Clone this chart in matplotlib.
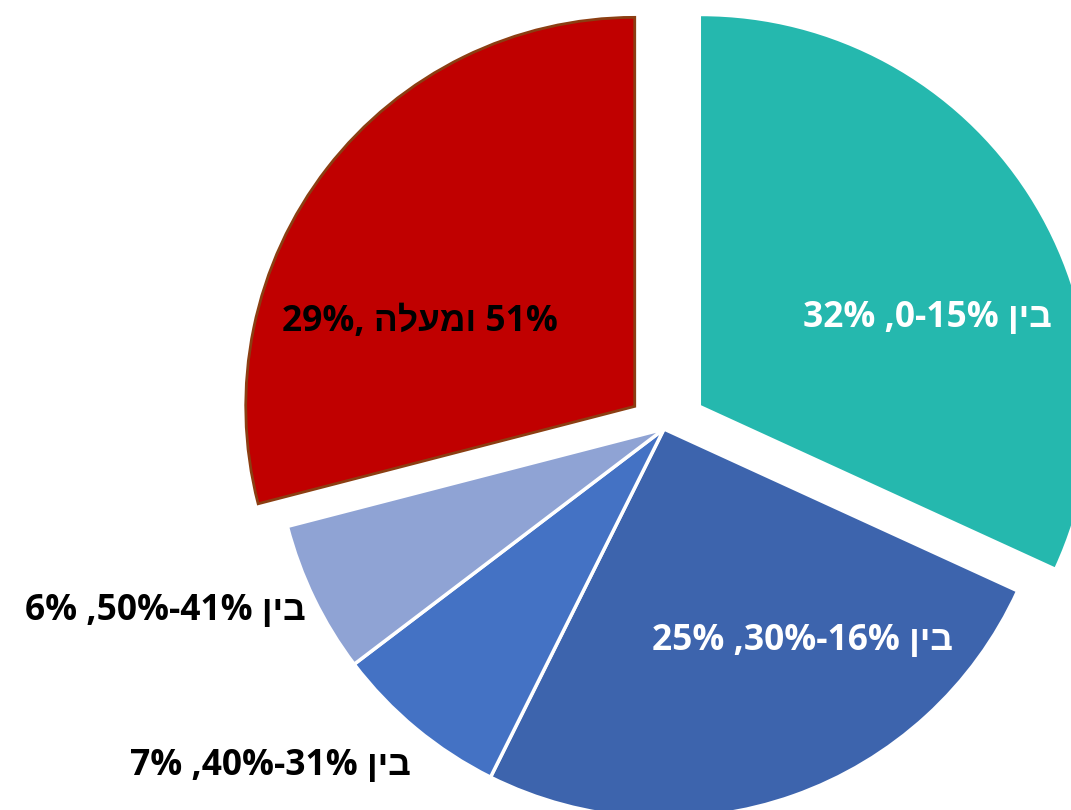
import matplotlib
matplotlib.use("Agg")
import matplotlib.pyplot as plt

# Data (slice sizes; labels show rounded values)
categories = ["0-15%", "16%-30%", "31%-40%", "41%-50%", "51% ומעלה"]
values = [31.8, 25.5, 7.3, 6.3, 29.0]
# Visual (left-to-right) label strings for RTL Hebrew text
labels_visual = [
    "32% ,0-15% ןיב",
    "25% ,30%-16% ןיב",
    "7% ,40%-31% ןיב",
    "6% ,50%-41% ןיב",
    "29%, הלעמו 51%",
]

colors = ["#25B8AE", "#3D64AD", "#4472C4", "#8FA3D4", "#C00000"]
explode = [44, 0, 0, 0, 37]   # in pixel units (data units = pixels)
label_pos = [(927, 492), (802, 169), (270, 44), (165, 199), (420, 488)]
label_colors = ["white", "white", "black", "black", "black"]

plt.rcParams['font.family'] = ['Open Sans', 'Liberation Sans', 'DejaVu Sans']

fig = plt.figure(figsize=(10.71, 8.1), dpi=100)
ax = fig.add_axes([0, 0, 1, 1])

wedges, _ = ax.pie(values, colors=colors, explode=explode, startangle=90,
                   counterclock=False, radius=389, center=(664, 381),
                   wedgeprops=dict(linewidth=2.5, edgecolor='white'),
                   frame=True)
wedges[4].set_edgecolor('#8B3E12')
wedges[4].set_linewidth(2)
wedges[0].set_linewidth(0)
ax.set_xlim(0, 1071)
ax.set_ylim(0, 810)
ax.set_aspect('equal')
ax.axis('off')

for txt, (x, y), c in zip(labels_visual, label_pos, label_colors):
    ax.text(x, y, txt, ha='center', va='center', fontsize=25.5,
            fontweight='bold', color=c)

fig.savefig("out.png", dpi=100)
